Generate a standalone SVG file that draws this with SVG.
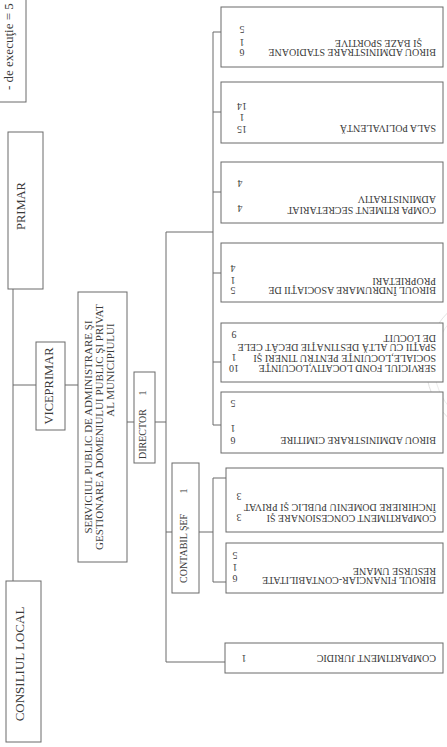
<svg xmlns="http://www.w3.org/2000/svg" width="447" height="747" viewBox="0 0 447 747">
<style>
.box{fill:#fff;stroke:#6a6a6a;stroke-width:1}
.t{font-family:"Liberation Serif","Times New Roman",serif;fill:#3a3a3a}
.s10{font-size:10px}
.s11{font-size:11px}
.s12{font-size:12.5px}
.s13{font-size:13px}
.conn line,.conn polyline{stroke:#6a6a6a;stroke-width:1;fill:none}
</style>
<rect x="0" y="0" width="447" height="747" fill="#fff"/>
<circle cx="500" cy="365" r="74" fill="none" stroke="#e2e2e2" stroke-width="1"/>
<circle cx="500" cy="365" r="66" fill="none" stroke="#ececec" stroke-width="1"/>

<g id="connectors" class="conn">
<line x1="13" y1="289" x2="13" y2="581"/>
<line x1="13" y1="385" x2="36" y2="385"/>
<line x1="65" y1="385" x2="78" y2="385"/>
<line x1="127" y1="422" x2="134" y2="422"/>
<line x1="155" y1="422" x2="166" y2="422"/>
<polyline points="213,232 166,232 166,662 225,662"/>
<line x1="213" y1="32" x2="213" y2="425"/>
<line x1="213" y1="32" x2="221" y2="32"/>
<line x1="213" y1="112" x2="221" y2="112"/>
<line x1="213" y1="192" x2="221" y2="192"/>
<line x1="213" y1="273" x2="221" y2="273"/>
<line x1="213" y1="362" x2="221" y2="362"/>
<line x1="213" y1="425" x2="221" y2="425"/>
<line x1="166" y1="532" x2="172" y2="532"/>
<line x1="199" y1="532" x2="213" y2="532"/>
<line x1="213" y1="478" x2="213" y2="582"/>
<line x1="213" y1="478" x2="226" y2="478"/>
<line x1="213" y1="582" x2="226" y2="582"/>
</g>

<g id="legend">
<rect class="box" x="-5" y="-5" width="31" height="107"/>
<text class="t s13" transform="translate(13,90) rotate(-90)">- de execuţie = 5</text>
</g>

<g id="primar">
<rect class="box" x="8" y="132" width="35" height="157"/>
<text class="t s12" text-anchor="middle" transform="translate(25,206) rotate(-90)">PRIMAR</text>
</g>

<g id="viceprimar">
<rect class="box" x="36" y="342" width="29" height="88"/>
<text class="t s12" text-anchor="middle" transform="translate(53,386) rotate(-90)">VICEPRIMAR</text>
</g>

<g id="consiliul-local">
<rect class="box" x="6" y="581" width="35" height="161"/>
<text class="t s13" text-anchor="middle" transform="translate(24,664) rotate(-90)">CONSILIUL LOCAL</text>
</g>

<g id="serviciul-public">
<rect class="box" x="78" y="292" width="49" height="270"/>
<text class="t s11" text-anchor="middle" transform="translate(92,427) rotate(-90)">SERVICIUL PUBLIC DE ADMINISTRARE ŞI</text>
<text class="t s11" text-anchor="middle" transform="translate(102.5,427) rotate(-90)">GESTIONARE A DOMENIULUI PUBLIC ŞI PRIVAT</text>
<text class="t s11" text-anchor="middle" transform="translate(114,370) rotate(-90)">AL MUNICIPIULUI</text>
</g>

<g id="director">
<rect class="box" x="134" y="372" width="21" height="91"/>
<text class="t s10" transform="translate(146,459) rotate(-90)">DIRECTOR</text>
<text class="t s10" text-anchor="middle" transform="translate(146,393) rotate(-90)">1</text>
</g>

<g id="contabil-sef">
<rect class="box" x="172" y="463" width="27" height="130"/>
<text class="t s10" transform="translate(187,583) rotate(-90)">CONTABIL ŞEF</text>
<text class="t s10" text-anchor="middle" transform="translate(187,491) rotate(-90)">1</text>
</g>

<g id="birou-stadioane">
<rect class="box" x="221" y="7" width="222" height="60"/>
<text class="t s10" transform="translate(436,48.7) rotate(180)">BIROU ADMINISTRARE STADIOANE</text>
<text class="t s10" transform="translate(422,39.7) rotate(180)">ŞI BAZE SPORTIVE</text>
<text class="t s10" text-anchor="middle" transform="translate(242,48.7) rotate(180)">6</text>
<text class="t s10" text-anchor="middle" transform="translate(242,38.7) rotate(180)">1</text>
<text class="t s10" text-anchor="middle" transform="translate(242,25.7) rotate(180)">5</text>
</g>

<g id="sala-polivalenta">
<rect class="box" x="221" y="82" width="222" height="61"/>
<text class="t s10" transform="translate(436,124.7) rotate(180)">SALA POLIVALENTĂ</text>
<text class="t s10" text-anchor="middle" transform="translate(242,125.7) rotate(180)">15</text>
<text class="t s10" text-anchor="middle" transform="translate(242,113.7) rotate(180)">1</text>
<text class="t s10" text-anchor="middle" transform="translate(242,102.7) rotate(180)">14</text>
</g>

<g id="compartiment-secretariat">
<rect class="box" x="221" y="162" width="222" height="61"/>
<text class="t s10" transform="translate(436,206.7) rotate(180)">COMPA RTIMENT  SECRETARIAT</text>
<text class="t s10" transform="translate(436,195.7) rotate(180)">ADMINISTRATIV</text>
<text class="t s10" text-anchor="middle" transform="translate(240,204.7) rotate(180)">4</text>
<text class="t s10" text-anchor="middle" transform="translate(240,179.7) rotate(180)">4</text>
</g>

<g id="birou-indrumare">
<rect class="box" x="221" y="243" width="222" height="59"/>
<text class="t s10" transform="translate(436,286.7) rotate(180)">BIROUL ÎNDRUMARE  ASOCIAŢII DE</text>
<text class="t s10" transform="translate(436,277.7) rotate(180)">PROPRIETARI</text>
<text class="t s10" text-anchor="middle" transform="translate(233,286.7) rotate(180)">5</text>
<text class="t s10" text-anchor="middle" transform="translate(233,276.7) rotate(180)">1</text>
<text class="t s10" text-anchor="middle" transform="translate(233,264.7) rotate(180)">4</text>
</g>

<g id="serviciul-fond-locativ">
<rect class="box" x="221" y="323" width="222" height="59"/>
<text class="t s10" transform="translate(436,364.7) rotate(180)">SERVICIUL FOND LOCATIV,LOCUINŢE</text>
<text class="t s10" transform="translate(436,354.7) rotate(180)">SOCIALE,LOCUINŢE PENTRU TINERI ŞI</text>
<text class="t s10" transform="translate(436,343.7) rotate(180)">SPAŢII  CU ALTĂ DESTINAŢIE DECÂT CELE</text>
<text class="t s10" transform="translate(436,334.7) rotate(180)">DE LOCUIT</text>
<text class="t s10" text-anchor="middle" transform="translate(234,364.7) rotate(180)">10</text>
<text class="t s10" text-anchor="middle" transform="translate(234,353.7) rotate(180)">1</text>
<text class="t s10" text-anchor="middle" transform="translate(234,330.7) rotate(180)">9</text>
</g>

<g id="birou-cimitire">
<rect class="box" x="221" y="392" width="222" height="61"/>
<text class="t s10" transform="translate(436,436.7) rotate(180)">BIROU  ADMINISTRARE CIMITIRE</text>
<text class="t s10" text-anchor="middle" transform="translate(233,436.7) rotate(180)">6</text>
<text class="t s10" text-anchor="middle" transform="translate(233,424.7) rotate(180)">1</text>
<text class="t s10" text-anchor="middle" transform="translate(233,399.7) rotate(180)">5</text>
</g>

<g id="compartiment-concesionare">
<rect class="box" x="226" y="468" width="217" height="64"/>
<text class="t s10" transform="translate(436,514.7) rotate(180)">COMPARTIMENT CONCESIONARE  ŞI</text>
<text class="t s10" transform="translate(436,503.7) rotate(180)">ÎNCHIRIERE  DOMENIU PUBLIC ŞI PRIVAT</text>
<text class="t s10" text-anchor="middle" transform="translate(239,513.7) rotate(180)">3</text>
<text class="t s10" text-anchor="middle" transform="translate(239,492.7) rotate(180)">3</text>
</g>

<g id="birou-financiar">
<rect class="box" x="226" y="543" width="217" height="50"/>
<text class="t s10" transform="translate(436,576.7) rotate(180)">BIROUL FINANCIAR-CONTABILITATE</text>
<text class="t s10" transform="translate(436,567.7) rotate(180)">RESURSE UMANE</text>
<text class="t s10" text-anchor="middle" transform="translate(235,574.7) rotate(180)">6</text>
<text class="t s10" text-anchor="middle" transform="translate(235,563.7) rotate(180)">1</text>
<text class="t s10" text-anchor="middle" transform="translate(235,551.7) rotate(180)">5</text>
</g>

<g id="compartiment-juridic">
<rect class="box" x="225" y="643" width="218" height="30"/>
<text class="t s10" transform="translate(436,654.7) rotate(180)">COMPARTIMENT JURIDIC</text>
<text class="t s10" text-anchor="middle" transform="translate(244,654.7) rotate(180)">1</text>
</g>
</svg>
